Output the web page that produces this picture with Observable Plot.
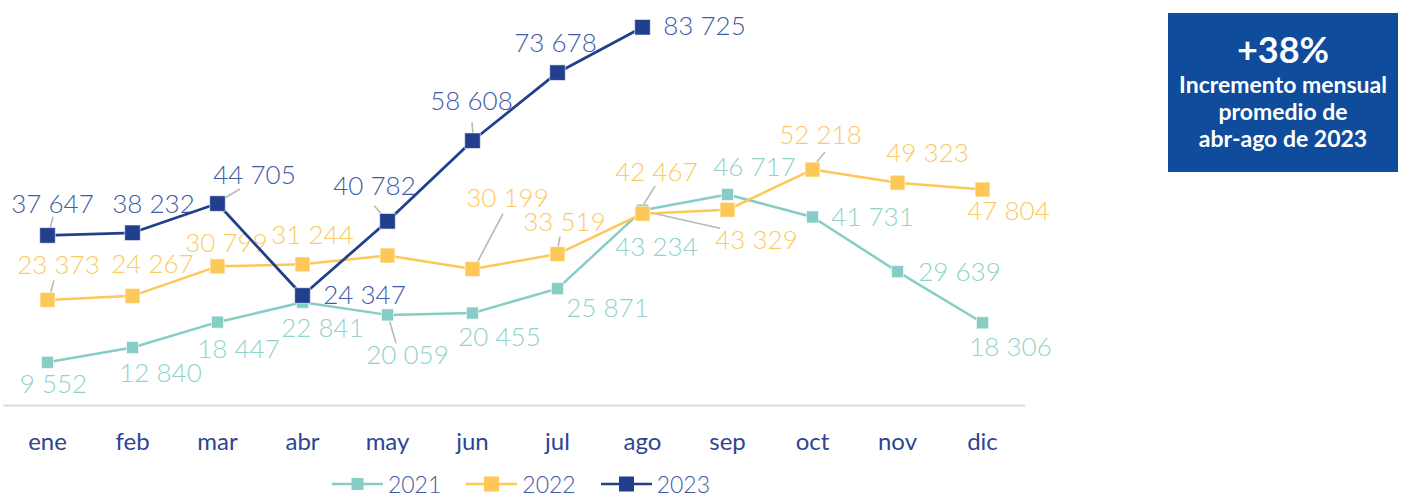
<!DOCTYPE html>
<html><head><meta charset="utf-8">
<script src="https://cdn.jsdelivr.net/npm/d3@7"></script>
<script src="https://cdn.jsdelivr.net/npm/@observablehq/plot@0.6"></script>
<style>
body{margin:0;background:#fff;font-family:Lato,"Open Sans",sans-serif;}
#wrap{position:relative;width:1413px;height:498px;overflow:hidden;}
#chart{position:absolute;left:0;top:0;}
#box{position:absolute;left:1168px;top:13px;width:230px;height:159px;background:#0f4c9c;color:#fff;text-align:center;font-weight:700;font-family:Lato,sans-serif;}
#box .big{font-size:36px;line-height:40px;margin-top:16px;}
#box .small{font-size:23px;line-height:27px;margin-top:2px;}
#legend{position:absolute;left:0;width:1042px;top:472px;height:24px;display:flex;justify-content:center;gap:25px;font-family:Lato,sans-serif;font-weight:300;font-size:23px;line-height:24px;color:#3f5aa6;}
#legend .item{display:flex;align-items:center;gap:5px;height:24px;}
</style></head>
<body>
<div id="wrap">
  <div id="chart"></div>
  <div id="legend"></div>
  <div id="box"><div class="big">+38%</div><div class="small">Incremento mensual<br>promedio de<br>abr-ago de 2023</div></div>
</div>
<script>
// ---- data ----
const months = ["ene","feb","mar","abr","may","jun","jul","ago","sep","oct","nov","dic"];
const seriesNames = ["2021","2022","2023"];
const values2021 = [9552,12840,18447,22841,20059,20455,25871,43234,46717,41731,29639,18306];
const values2022 = [23373,24267,30799,31244,33200,30199,33519,42467,43329,52218,49323,47804];
const values2023 = [37647,38232,44705,24347,40782,58608,73678,83725];
const seriesValues = [values2021, values2022, values2023];

// ---- styles / layout ----
const lineColors = {"2021":"#86cdc6","2022":"#fec858","2023":"#223f8e"};
const labelColors = {"2021":"#8fd3cb","2022":"#fdca62","2023":"#3f5aa6"};
const markerR = {"2021":6.8,"2022":8.4,"2023":8.8};
const lineW = {"2021":2.5,"2022":2.5,"2023":2.8};
// label offsets (px) relative to the point; null = no label shown
const labelOffsets = {
  "2021":[[6,22],[28,26],[21,28],[20,26],[20,41],[27,25],[50,20],[14,37],[27,-27],[60,1],[62,1],[28,25]],
  "2022":[[11,-34],[20,-31],[9,-23],[10,-29],null,[35,-70],[7,-31],[14,-41],[29,31],[8,-34],[30,-29],[26,22]],
  "2023":[[5,-31],[21,-28],[37,-28],[62,0],[-13,-35],[-1,-39],[-2,-29],[62,-1]]
};
// leader lines: [series, monthIndex, [x1,y1],[x2,y2]] px offsets from the point
const leaderLayout = [
  ["2023",0,[2,-2],[6,-18]],
  ["2023",2,[1,-1],[23,-14]],
  ["2023",4,[1,0],[-13,-15]],
  ["2023",5,[1,-5],[0,-18]],
  ["2022",0,[2,-1],[7,-19]],
  ["2022",5,[2,0],[31,-55]],
  ["2022",6,[0,-1],[3,-17]],
  ["2022",7,[0,-6],[13,-27]],
  ["2022",8,[-87,1],[-7,19]],
  ["2022",9,[0,-1],[13,-17]],
  ["2021",4,[1,1],[9,29]]
];

const fmt = d3.formatLocale({thousands:" ", grouping:[3], decimal:",", currency:["",""]}).format(",d");

const data = seriesNames.flatMap((s, si) => seriesValues[si].map((v, i) => ({series:s, month:months[i], value:v, i})));
const bySeries = s => data.filter(d => d.series === s);

const leaders = leaderLayout.map(([s, i, a, b]) => ({series:s, month:months[i], value:seriesValues[seriesNames.indexOf(s)][i], a, b}));

const marks = [];
marks.push(Plot.ruleY([0], {stroke:"#dcdcdc", strokeWidth:2}));
// leaders
marks.push(Plot.dot(leaders, {x:"month", y:"value", render: (index, scales, values) => {
  const g = d3.create("svg:g").attr("stroke", "#b8b8b8").attr("stroke-width", 1.6);
  for (const k of index) {
    const d = leaders[k];
    const px = values.x[k], py = values.y[k];
    g.append("line").attr("x1", px + d.a[0]).attr("y1", py + d.a[1]).attr("x2", px + d.b[0]).attr("y2", py + d.b[1]);
  }
  return g.node();
}}));
// labels
for (const s of seriesNames) {
  bySeries(s).forEach(d => {
    const off = labelOffsets[s][d.i];
    if (!off) return;
    marks.push(Plot.text([d], {x:"month", y:"value", text: d => fmt(d.value), dx: off[0], dy: off[1],
      fill: labelColors[s], fontSize: 26, fontWeight: 300, fontFamily: "Lato", textAnchor: "middle", lineAnchor: "middle"}));
  });
}
// lines and markers
for (const s of seriesNames) {
  marks.push(Plot.line(bySeries(s), {x:"month", y:"value", stroke: lineColors[s], strokeWidth: lineW[s]}));
  marks.push(Plot.dot(bySeries(s), {x:"month", y:"value", symbol:"square", r: markerR[s], fill: lineColors[s], stroke:"#fff", strokeWidth:0.6}));
}

const chart = Plot.plot({
  width: 1030, height: 465,
  marginLeft: 3.5, marginRight: 5, marginTop: 21, marginBottom: 60,
  style: {fontFamily: "Lato", background: "transparent", overflow: "visible"},
  x: {type: "point", domain: months, padding: 0.5, label: null, tickSize: 0, tickPadding: 27},
  y: {domain: [0, 85000], axis: null},
  marks: [
    ...marks,
    Plot.axisX({tickSize: 0, tickPadding: 27, fontSize: 24, fill: "#2d4591", label: null, fontFamily: "Lato"})
  ]
});
document.getElementById("chart").appendChild(chart);

// legend
const leg = document.getElementById("legend");
for (const s of seriesNames) {
  const it = document.createElement("div"); it.className = "item";
  const side = s === "2021" ? 12 : 15;
  it.innerHTML = `<svg width="51" height="20"><line x1="0" x2="51" y1="10" y2="10" stroke="${lineColors[s]}" stroke-width="2.5"/><rect x="${25.5 - side/2}" y="${10 - side/2}" width="${side}" height="${side}" fill="${lineColors[s]}"/></svg><span>${s}</span>`;
  leg.appendChild(it);
}
</script>
</body></html>
